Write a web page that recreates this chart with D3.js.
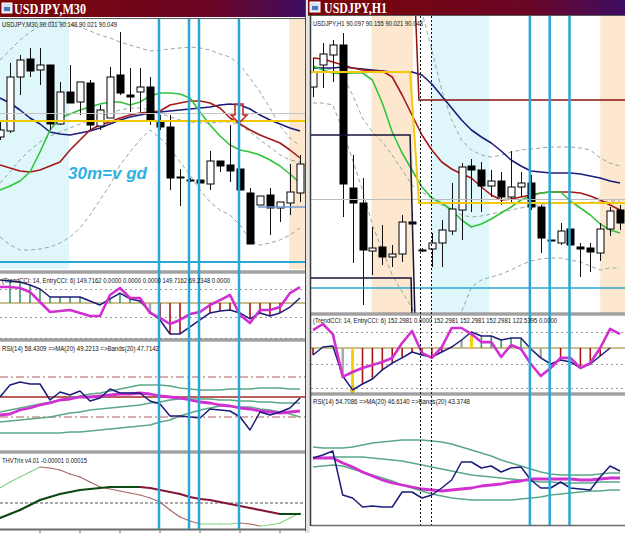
<!DOCTYPE html>
<html>
<head>
<meta charset="utf-8">
<script src="https://cdn.jsdelivr.net/npm/d3@7"></script>
<style>
body { margin: 0; background: #fff; }
svg { display: block; }
</style>
</head>
<body>
<div id="plot"></div>
<script>
// ---------- M30 window data ----------
// candles [open, high, low, close]
var m30Ohlc = [
    [89.915, 90.000, 89.900, 89.950], [89.945, 90.285, 89.935, 90.215], [90.215, 90.325, 90.125, 90.300],
    [90.305, 90.360, 90.215, 90.245], [90.250, 90.360, 90.175, 90.275], [90.275, 90.275, 89.950, 89.980],
    [89.980, 90.190, 89.975, 90.140], [90.140, 90.275, 90.085, 90.085], [90.090, 90.190, 90.025, 90.190],
    [90.185, 90.200, 89.950, 89.975], [89.970, 90.075, 89.950, 90.050], [90.010, 90.265, 90.010, 90.215],
    [90.225, 90.440, 90.125, 90.135], [90.125, 90.260, 90.040, 90.115], [90.140, 90.260, 90.040, 90.165],
    [90.165, 90.215, 89.975, 90.000], [89.990, 90.025, 89.950, 89.965], [89.965, 90.025, 89.650, 89.710],
    [89.715, 89.755, 89.570, 89.710], [89.700, 89.710, 89.690, 89.695], [89.700, 89.700, 89.685, 89.685],
    [89.680, 89.845, 89.650, 89.795], [89.795, 89.795, 89.740, 89.770], [89.775, 89.975, 89.690, 89.745],
    [89.755, 89.755, 89.650, 89.650], [89.635, 89.660, 89.380, 89.380], [89.575, 89.620, 89.575, 89.620],
    [89.625, 89.660, 89.425, 89.560], [89.560, 89.590, 89.490, 89.590], [89.585, 89.780, 89.525, 89.640],
    [89.635, 89.825, 89.590, 89.780]
];
var m30MaSlow = [90.110, 90.085, 90.050, 90.010, 89.980, 89.940, 89.930, 89.925, 89.935, 89.945, 89.960, 89.980, 90.000, 90.015, 90.025, 90.035, 90.040, 90.045, 90.050, 90.055, 90.060, 90.065, 90.075, 90.080, 90.075, 90.055, 90.025, 90.000, 89.980, 89.960, 89.945];
var m30MaMid = [89.775, 89.760, 89.745, 89.740, 89.750, 89.770, 89.790, 89.850, 89.900, 89.950, 89.975, 89.990, 90.010, 90.025, 90.035, 90.040, 90.045, 90.075, 90.085, 90.095, 90.095, 90.085, 90.060, 90.010, 89.980, 89.950, 89.925, 89.905, 89.885, 89.850, 89.810];
var m30MaFast = [89.650, 89.670, 89.695, 89.740, 89.840, 89.950, 90.010, 90.030, 90.050, 90.065, 90.080, 90.090, 90.090, 90.075, 90.090, 90.120, 90.135, 90.135, 90.130, 90.110, 90.040, 89.975, 89.920, 89.875, 89.850, 89.840, 89.825, 89.800, 89.770, 89.730, 89.685];
var m30BandUpper = [90.300, 90.350, 90.400, 90.440, 90.470, 90.490, 90.490, 90.480, 90.465, 90.445, 90.425, 90.410, 90.390, 90.375, 90.360, 90.345, 90.350, 90.355, 90.360, 90.365, 90.360, 90.350, 90.330, 90.315, 90.275, 90.210, 90.140, 90.060, 89.970, 89.910, 89.870];
var m30BandMid = [89.685, 89.740, 89.800, 89.850, 89.890, 89.920, 89.940, 89.960, 89.980, 90.000, 90.020, 90.035, 90.050, 90.060, 90.060, 90.050, 90.035, 90.015, 90.000, 89.990, 89.985, 89.985, 89.990, 89.990, 89.975, 89.940, 89.900, 89.865, 89.825, 89.800, 89.790];
var m30BandLower = [89.415, 89.375, 89.350, 89.350, 89.355, 89.365, 89.385, 89.415, 89.460, 89.525, 89.600, 89.675, 89.775, 89.840, 89.900, 89.950, 89.910, 89.860, 89.790, 89.725, 89.650, 89.590, 89.550, 89.525, 89.475, 89.400, 89.375, 89.385, 89.400, 89.425, 89.460];
var m30TrendCci = [164, 157, 150, 129, 100, 43, 43, 43, 43, 14, -14, 29, 71, 29, 14, -64, -121, -221, -221, -171, -121, -71, -57, -50, -71, -114, -71, -93, -71, -29, 36];
var m30EntryCci = [114, 114, 107, 79, 7, -64, -57, -50, -71, -93, -93, 57, 107, 36, 36, -71, -107, -150, -121, -79, -64, -14, 21, 57, -86, -143, -50, -50, -29, 71, 114];
var m30CciHist = '-gggggggg--ggggxrrr--rrr-rrrr--';   // g up, r down, x turn, - none
var m30Rsi = [50, 62, 65, 63, 63, 47, 55, 52, 56, 46, 49, 58, 54, 54, 54, 46, 43, 31, 31, 30, 29, 38, 37, 36, 30, 17, 35, 32, 35, 39, 49];
var m30RsiMa = [32, 33, 37, 39, 42, 44, 47, 48, 50, 50, 51, 52, 53, 53, 54, 53, 51, 50, 49, 47, 45, 44, 42, 41, 39, 38, 36, 35, 34, 35, 36];
var m30RsiUpper = [35, 37, 39, 41, 43, 45, 47, 49, 51, 53, 54, 56, 58, 60, 62, 62, 62, 61, 59, 58, 57, 57, 57, 58, 58, 58, 59, 59, 59, 58, 58];
var m30RsiMid = [25, 26, 27, 28, 29, 30, 32, 34, 35, 37, 38, 39, 40, 41, 42, 44, 45, 47, 48, 48, 48, 48, 47, 47, 46, 46, 45, 45, 44, 44, 44];
var m30RsiLower = [14, 14, 14, 14, 14, 14, 14, 15, 15, 16, 17, 18, 19, 20, 21, 22, 25, 27, 31, 34, 37, 39, 41, 41, 40, 40, 38, 37, 35, 33, 30];
// THVTrix in units of 0.00001
var m30TrixMain = [-15, -11, -7, -2, 3, 6, 9, 11, 13, 14, 15, 16, 16, 16, 16, 15, 13, 11, 9, 6, 4, 3, 1, -1, -3, -5, -7, -9, -11, -11, -11];
var m30TrixSignal = [15, 21, 26, 31, 36, 35, 33, 29, 26, 21, 16, 14, 12, 10, 8, 5, 1, -7, -14, -18, -21, -21, -21, -21, -20, -21, -23, -22, -20, -15, -10];
var m30Sessions = [{from: -1, to: 6.9, kind: 'asia'}, {from: 28.9, to: 31, kind: 'europe'}];
var m30TimeMarks = [15.9, 18.9, 19.9, 23.9];
var m30Levels = {grey: 90.035, yellow: 89.995, cyan: 89.29, blue: 89.565};
var m30Arrow = {bar: 23.9, price: 90.08};

// ---------- H1 window data ----------
var h1Ohlc = [
    [90.565, 90.710, 90.515, 90.640], [90.675, 90.785, 90.560, 90.730], [90.725, 90.800, 90.590, 90.775],
    [90.775, 90.835, 89.915, 90.080], [90.060, 90.225, 89.685, 89.985], [89.985, 90.110, 89.475, 89.750],
    [89.745, 89.865, 89.625, 89.760], [89.765, 89.875, 89.675, 89.715], [89.715, 89.775, 89.665, 89.730],
    [89.730, 89.925, 89.690, 89.890], [89.890, 89.935, 89.825, 89.880], [89.750, 89.760, 89.740, 89.745],
    [89.755, 89.835, 89.665, 89.785], [89.785, 89.900, 89.665, 89.850], [89.845, 90.085, 89.825, 89.955],
    [89.950, 90.185, 89.800, 90.165], [90.170, 90.205, 89.940, 90.150], [90.150, 90.190, 89.940, 90.070],
    [90.070, 90.150, 90.015, 90.095], [90.095, 90.140, 89.975, 90.015], [90.015, 90.245, 89.990, 90.065],
    [90.065, 90.140, 90.015, 90.085], [90.085, 90.125, 89.950, 89.965], [89.965, 89.975, 89.735, 89.810],
    [89.800, 89.800, 89.795, 89.795], [89.785, 89.885, 89.775, 89.845], [89.855, 89.855, 89.775, 89.775],
    [89.765, 89.785, 89.615, 89.755], [89.760, 89.785, 89.640, 89.740], [89.735, 89.885, 89.695, 89.855],
    [89.855, 89.965, 89.820, 89.945], [89.950, 89.975, 89.850, 89.885]
];
var h1MaSlow = [90.660, 90.660, 90.660, 90.665, 90.660, 90.655, 90.650, 90.645, 90.640, 90.640, 90.640, 90.625, 90.580, 90.520, 90.460, 90.400, 90.350, 90.315, 90.285, 90.245, 90.200, 90.170, 90.145, 90.140, 90.135, 90.135, 90.135, 90.130, 90.120, 90.110, 90.095, 90.085];
var h1MaMid = [90.710, 90.705, 90.690, 90.675, 90.660, 90.650, 90.645, 90.645, 90.615, 90.525, 90.425, 90.325, 90.250, 90.190, 90.155, 90.130, 90.110, 90.065, 90.025, 90.000, 90.005, 90.015, 90.025, 90.035, 90.040, 90.040, 90.040, 90.035, 90.020, 90.000, 89.975, 89.950];
var h1MaFast = [90.670, 90.650, 90.635, 90.630, 90.635, 90.635, 90.600, 90.485, 90.340, 90.235, 90.150, 90.065, 90.010, 89.985, 89.950, 89.900, 89.865, 89.880, 89.905, 89.935, 89.965, 90.000, 90.020, 90.035, 90.040, 90.040, 89.995, 89.960, 89.925, 89.880, 89.850, 89.835];
var h1BandUpper = [90.975, 90.980, 90.985, 90.990, 90.995, 91.000, 91.000, 91.000, 91.000, 91.000, 90.990, 90.940, 90.750, 90.550, 90.400, 90.300, 90.250, 90.225, 90.215, 90.225, 90.240, 90.250, 90.255, 90.260, 90.265, 90.265, 90.265, 90.260, 90.250, 90.210, 90.185, 90.170];
var h1BandMid = [90.660, 90.660, 90.650, 90.625, 90.525, 90.410, 90.340, 90.290, 90.225, 90.150, 90.075, 90.040, 90.010, 89.975, 89.950, 89.925, 89.915, 89.920, 89.930, 89.940, 89.950, 89.960, 89.970, 89.975, 89.980, 89.985, 89.985, 89.985, 89.990, 89.990, 89.995, 89.995];
var h1BandLower = [90.485, 90.485, 90.475, 90.350, 90.200, 90.050, 89.875, 89.750, 89.625, 89.540, 89.460, 89.375, 89.300, 89.300, 89.350, 89.440, 89.565, 89.600, 89.615, 89.630, 89.650, 89.675, 89.695, 89.705, 89.710, 89.710, 89.700, 89.690, 89.670, 89.650, 89.660, 89.660];
var h1TrendCci = [-44, 6, 12, -175, -262, -225, -194, -137, -94, -62, -25, -44, -56, -25, 6, 50, 100, 75, 75, 50, 62, 62, -6, -62, -100, -75, -87, -125, -100, -50, 0];
var h1EntryCci = [112, 150, 87, -181, -150, -125, -106, -87, -62, 31, 106, -31, -62, 6, 125, 125, 87, 37, 37, -56, 19, -6, -100, -175, -125, -62, -62, -125, -94, 0, 119, 87];
var h1CciHist = 'r--xyrrrrrrrrr-xyggggg-x-r-rrr--';
var h1Rsi = [67, 70, 74, 30, 27, 18, 19, 18, 18, 33, 33, 27, 30, 37, 45, 63, 63, 57, 59, 53, 57, 58, 45, 37, 37, 43, 37, 36, 35, 48, 59, 54];
var h1RsiMa = [67, 67, 67, 62, 58, 53, 49, 45, 42, 40, 38, 36, 35, 34, 35, 36, 37, 39, 40, 41, 43, 44, 46, 46, 46, 46, 46, 45, 45, 46, 47, 47];
var h1RsiUpper = [78, 77, 77, 77, 78, 80, 82, 83, 84, 85, 85, 85, 84, 83, 81, 78, 75, 72, 69, 65, 62, 59, 56, 53, 51, 50, 50, 50, 50, 51, 52, 52];
var h1RsiMid = [67, 67, 68, 68, 68, 68, 67, 66, 65, 64, 62, 60, 58, 56, 54, 52, 50, 49, 48, 47, 46, 45, 44, 43, 43, 42, 42, 42, 42, 43, 43, 43];
var h1RsiLower = [58, 59, 60, 59, 56, 53, 50, 47, 44, 40, 37, 34, 31, 29, 27, 26, 25, 25, 25, 25, 25, 26, 27, 28, 30, 31, 32, 33, 34, 34, 35, 35];
var h1Sessions = [{from: 5.9, to: 10.1, kind: 'europe'}, {from: 11.9, to: 17.8, kind: 'asia'}, {from: 29.0, to: 33, kind: 'europe'}];
var h1TimeMarks = [21.9, 23.9, 25.9];
var h1DottedMarks = [10.8, 11.9];
var h1Levels = {grey: 90.005, cyan: 89.56};
var h1YellowStep = [[-1, 90.64], [9.8, 90.64], [10.7, 89.985], [33, 89.985]];
var h1RedStep = [[10.3, 91.0], [10.7, 90.50], [33, 90.50]];
var h1BoxTop = [[-1, 90.325], [9.8, 90.325], [10.3, 89.40]];
var h1BoxBottom = [[-1, 89.61], [9.9, 89.61], [10.0, 89.40]];

var cciLevels = [100, -100, -250];
var rsiLevels = [70, 30];

// ---------- setup ----------
var width = 625;
var height = 533;
var canvas = d3.select('#plot').append('svg').attr('width', width).attr('height', height);
var defs = canvas.append('defs');

var sessionFill = {asia: '#dff7fb', europe: '#fde8cf'};
var cyanLine = '#2aa7d6';
var navy = '#1c1c7a';
var magenta = '#d22fd0';
var histColor = {g: '#3f9a68', r: '#a81414', x: '#a8a8a8', y: '#f2cf10'};

canvas.append('rect').attr('width', width).attr('height', height).attr('fill', '#fff');

var grad = defs.append('linearGradient').attr('id', 'title-grad');
grad.append('stop').attr('offset', '0%').attr('stop-color', '#7c0404');
grad.append('stop').attr('offset', '70%').attr('stop-color', '#6a0626');
grad.append('stop').attr('offset', '100%').attr('stop-color', '#3e0c62');

var clipCount = 0;
function panel(x0, y0, w, h) {
    var id = 'clip' + (clipCount++);
    defs.append('clipPath').attr('id', id).append('rect')
        .attr('x', x0).attr('y', y0).attr('width', w).attr('height', h);
    return canvas.append('g').attr('clip-path', 'url(#' + id + ')');
}

function drawLine(g, values, x, y, color, w, dash) {
    var gen = d3.line()
        .defined(function(d) { return d != null; })
        .x(function(d, i) { return x(i); })
        .y(function(d) { return y(d); });
    g.append('path')
        .attr('d', gen(values))
        .attr('fill', 'none')
        .attr('stroke', color)
        .attr('stroke-width', w)
        .attr('stroke-dasharray', dash || null)
        .attr('stroke-linejoin', 'round');
}

function drawSegLine(g, values, x, y, upColor, downColor, w) {
    for (var i = 0; i < values.length - 1; i++) {
        g.append('line')
            .attr('x1', x(i)).attr('y1', y(values[i]))
            .attr('x2', x(i + 1)).attr('y2', y(values[i + 1]))
            .attr('stroke', values[i + 1] >= values[i] ? upColor : downColor)
            .attr('stroke-width', w)
            .attr('stroke-linecap', 'round');
    }
}

function drawPoly(g, pts, x, y, color, w) {
    var gen = d3.line().x(function(d) { return x(d[0]); }).y(function(d) { return y(d[1]); });
    g.append('path').attr('d', gen(pts)).attr('fill', 'none').attr('stroke', color).attr('stroke-width', w);
}

function drawCandles(g, bars, x, y, bw) {
    var c = g.selectAll(null).data(bars).enter().append('g');
    c.append('line')
        .attr('x1', function(d, i) { return Math.round(x(i)) + 0.5; })
        .attr('x2', function(d, i) { return Math.round(x(i)) + 0.5; })
        .attr('y1', function(d) { return y(d[1]); })
        .attr('y2', function(d) { return y(d[2]); })
        .attr('stroke', '#111').attr('stroke-width', 1);
    c.append('rect')
        .attr('x', function(d, i) { return Math.round(x(i)) + 0.5 - bw / 2; })
        .attr('y', function(d) { return y(Math.max(d[0], d[3])); })
        .attr('width', bw)
        .attr('height', function(d) { return Math.max(1, Math.abs(y(d[0]) - y(d[3]))); })
        .attr('fill', function(d) { return d[3] > d[0] ? '#fff' : '#000'; })
        .attr('stroke', '#000').attr('stroke-width', 1);
}

function hline(g, x0, x1, yv, color, w, dash) {
    g.append('line').attr('x1', x0).attr('x2', x1).attr('y1', yv).attr('y2', yv)
        .attr('stroke', color).attr('stroke-width', w).attr('stroke-dasharray', dash || null);
}

function label(x0, yb, txt, len) {
    canvas.append('text').attr('x', x0).attr('y', yb)
        .attr('font-family', 'Liberation Sans, Arial, sans-serif')
        .attr('font-size', 6.6).attr('fill', '#111')
        .attr('textLength', len).attr('lengthAdjust', 'spacingAndGlyphs')
        .text(txt);
}

function sessions(g, list, x, y0, y1) {
    g.selectAll(null).data(list).enter().append('rect')
        .attr('x', function(d) { return x(d.from); })
        .attr('width', function(d) { return x(d.to) - x(d.from); })
        .attr('y', y0).attr('height', y1 - y0)
        .attr('fill', function(d) { return sessionFill[d.kind]; });
}

function cciPanel(g, trend, entry, hist, x, y, x0, x1) {
    cciLevels.forEach(function(l) { hline(g, x0, x1, Math.round(y(l)) + 0.5, '#9a9a9a', 1, '2,3'); });
    hline(g, x0, x1, y(0), '#c9bf8c', 2);
    trend.forEach(function(v, i) {
        var k = hist[i];
        if (!k || k === '-') return;
        g.append('line').attr('x1', x(i)).attr('x2', x(i)).attr('y1', y(0)).attr('y2', y(v))
            .attr('stroke', histColor[k]).attr('stroke-width', k === 'y' ? 3 : (k === 'x' ? 2.5 : 1.6));
        if (k === 'y' && v < 0) {
            g.append('path').attr('d', d3.symbol(d3.symbolDiamond, 22)())
                .attr('transform', 'translate(' + x(i) + ',' + y(v) + ')')
                .attr('fill', histColor.y).attr('stroke', '#b09000').attr('stroke-width', 0.5);
        }
    });
    drawLine(g, trend, x, y, navy, 1.5);
    drawLine(g, entry, x, y, magenta, 2.6);
}

function rsiPanel(g, rsi, ma, up, mid, lo, x, y) {
    drawLine(g, up, x, y, '#5aa888', 1.5);
    drawLine(g, mid, x, y, '#5aa888', 1.5);
    drawLine(g, lo, x, y, '#5aa888', 1.5);
    drawLine(g, ma, x, y, magenta, 2.8);
    drawLine(g, rsi, x, y, navy, 1.5);
}

// ================= M30 window (left) =================
var xL = d3.scaleLinear().domain([0, 30]).range([0, 300]);
var yL = d3.scaleLinear().domain([90.50, 89.26]).range([20, 268]);
var cciL = d3.scaleLinear().domain([-250, 100]).range([338, 289]);
var rsiL = d3.scaleLinear().domain([0, 100]).range([447, 347]);
var trixL = d3.scaleLinear().domain([-25, 48]).range([528, 455]);

// main
var gm = panel(0, 19, 305, 252);
sessions(gm, m30Sessions, xL, 19, 269);
drawLine(gm, m30BandUpper, xL, yL, '#8fa9a2', 1, '4,3');
drawLine(gm, m30BandMid, xL, yL, '#8fa9a2', 1, '4,3');
drawLine(gm, m30BandLower, xL, yL, '#8fa9a2', 1, '4,3');
drawLine(gm, m30MaSlow, xL, yL, navy, 1.6);
drawLine(gm, m30MaMid, xL, yL, '#a41818', 1.6);
drawLine(gm, m30MaFast, xL, yL, '#30c43a', 1.6);
drawCandles(gm, m30Ohlc, xL, yL, 7);
hline(gm, 0, 305, Math.round(yL(m30Levels.grey)) + 0.5, '#c4c4c4', 1);
hline(gm, 0, 305, yL(m30Levels.yellow), '#f0c800', 2);
hline(gm, 0, 305, yL(m30Levels.cyan), cyanLine, 2);
hline(gm, xL(25.8), 305, yL(m30Levels.blue), '#6f9ad0', 1.5);
// sell arrow
(function() {
    var ax = xL(m30Arrow.bar), ay = yL(m30Arrow.price);
    var pts = [[ax - 4, ay], [ax + 4, ay], [ax + 4, ay + 11], [ax + 8, ay + 11], [ax, ay + 19], [ax - 8, ay + 11], [ax - 4, ay + 11]];
    gm.append('polygon').attr('points', pts.map(function(p) { return p.join(','); }).join(' '))
        .attr('fill', '#fff').attr('fill-opacity', 0.3).attr('stroke', '#c42020').attr('stroke-width', 1.5);
})();
gm.append('text').attr('x', 68).attr('y', 179)
    .attr('font-family', 'Liberation Sans, Arial, sans-serif')
    .attr('font-size', 17).attr('font-weight', 'bold').attr('font-style', 'italic')
    .attr('fill', '#2bb0e2').text('30m=v gd');

// cci
var gc = panel(0, 274, 305, 65);
cciPanel(gc, m30TrendCci, m30EntryCci, m30CciHist, xL, cciL, 0, 305);

// rsi
var gr = panel(0, 342, 305, 109);
hline(gr, 0, 305, rsiL(rsiLevels[0]), '#c89494', 1.5, '8,3,2,3');
hline(gr, 0, 305, rsiL(rsiLevels[1]), '#c89494', 1.5, '8,3,2,3');
hline(gr, 0, 305, rsiL(50), '#a42a2a', 1.5);
rsiPanel(gr, m30Rsi, m30RsiMa, m30RsiUpper, m30RsiMid, m30RsiLower, xL, rsiL);

// trix
var gt = panel(0, 454, 305, 75);
hline(gt, 0, 305, trixL(0), '#555', 1, '3,2');
drawSegLine(gt, m30TrixSignal, xL, trixL, '#86d486', '#a86a6a', 1.2);
drawSegLine(gt, m30TrixMain, xL, trixL, '#0c4a12', '#861636', 2.2);

// separators and frame
[[271.5, 273], [339.5, 341], [451.5, 453]].forEach(function(s) {
    canvas.append('rect').attr('x', 0).attr('y', s[0] - 1).attr('width', 305).attr('height', 3).attr('fill', '#7a7a7a');
    hline(canvas, 0, 305, s[0] + 0.5, '#c8c8c8', 1);
});
hline(canvas, 0, 305, 529.5, '#6a6a6a', 2);
d3.range(40, 300, 40).forEach(function(t) {
    canvas.append('line').attr('x1', t).attr('x2', t).attr('y1', 530).attr('y2', 533).attr('stroke', '#6a6a6a');
});

// time markers
canvas.selectAll(null).data(m30TimeMarks).enter().append('line')
    .attr('x1', function(d) { return xL(d); }).attr('x2', function(d) { return xL(d); })
    .attr('y1', 19).attr('y2', 529)
    .attr('stroke', cyanLine).attr('stroke-width', 2.5);

// title bar
canvas.append('rect').attr('x', 0).attr('y', 0).attr('width', 305).attr('height', 17).attr('fill', 'url(#title-grad)');
canvas.append('rect').attr('x', 2).attr('y', 3).attr('width', 10).attr('height', 10).attr('fill', '#d6e2f4').attr('stroke', '#fff');
canvas.append('rect').attr('x', 4).attr('y', 7).attr('width', 6).attr('height', 4).attr('fill', '#4a78b8');
canvas.append('text').attr('x', 14).attr('y', 14)
    .attr('font-family', 'Liberation Serif, Times New Roman, serif').attr('font-weight', 'bold')
    .attr('font-size', 14).attr('fill', '#fff')
    .attr('textLength', 72).attr('lengthAdjust', 'spacingAndGlyphs').text('USDJPY,M30');
hline(canvas, 0, 305, 18.5, '#5a5a5a', 1);
canvas.append('rect').attr('x', 305).attr('y', 0).attr('width', 5).attr('height', 533).attr('fill', '#e4e4e4');
canvas.append('line').attr('x1', 305.5).attr('x2', 305.5).attr('y1', 0).attr('y2', 531).attr('stroke', '#4a4a4a');

label(2, 27, 'USDJPY,M30  90.031  90.148  90.021  90.049', 115);
label(2, 283, '(TrendCCI: 14, EntryCCI: 6)  149.7162  0.0000  0.0000  0.0000  149.7162  69.2348  0.0000', 228);
label(2, 351, 'RSI(14) 58.4309   =>MA(20) 49.2213   =>Bands(20) 47.7142', 157);
label(2, 463, 'THVTrix v4.01  -0.00001  0.00015', 85);

// ================= H1 window (right) =================
var xR = d3.scaleLinear().domain([0, 31]).range([313, 620]);
var yR = d3.scaleLinear().domain([90.915, 89.435]).range([17, 313]);
var cciR = d3.scaleLinear().domain([-250, 100]).range([388, 332]);
var rsiR = d3.scaleLinear().domain([0, 100]).range([525, 425]);

var hm = panel(311, 16, 314, 297);
sessions(hm, h1Sessions, xR, 16, 313);
drawLine(hm, h1BandUpper, xR, yR, '#8fa9a2', 1, '4,3');
drawLine(hm, h1BandMid, xR, yR, '#8fa9a2', 1, '4,3');
drawLine(hm, h1BandLower, xR, yR, '#8fa9a2', 1, '4,3');
drawLine(hm, h1MaSlow, xR, yR, navy, 1.6);
drawLine(hm, h1MaMid, xR, yR, '#a41818', 1.6);
drawLine(hm, h1MaFast, xR, yR, '#30c43a', 1.6);
drawCandles(hm, h1Ohlc, xR, yR, 7);
hline(hm, 311, 625, Math.round(yR(h1Levels.grey)) + 0.5, '#bcbcbc', 1);
hline(hm, 311, 625, yR(h1Levels.cyan), cyanLine, 1.5);
drawPoly(hm, h1BoxTop, xR, yR, '#14143a', 1.5);
drawPoly(hm, h1BoxBottom, xR, yR, '#14143a', 1.5);
drawPoly(hm, h1RedStep, xR, yR, '#8a1010', 1.5);
drawPoly(hm, h1YellowStep, xR, yR, '#f2c810', 2);

var hc = panel(311, 315, 314, 78);
cciPanel(hc, h1TrendCci, h1EntryCci, h1CciHist, xR, cciR, 311, 625);

var hr = panel(311, 396, 314, 129);
rsiPanel(hr, h1Rsi, h1RsiMa, h1RsiUpper, h1RsiMid, h1RsiLower, xR, rsiR);

[[313.5], [393.5]].forEach(function(s) {
    canvas.append('rect').attr('x', 311).attr('y', s[0] - 1).attr('width', 314).attr('height', 3).attr('fill', '#7a7a7a');
    hline(canvas, 311, 625, s[0] + 0.5, '#c8c8c8', 1);
});
hline(canvas, 311, 625, 525.5, '#6a6a6a', 1.5);

canvas.selectAll(null).data(h1DottedMarks).enter().append('line')
    .attr('x1', function(d) { return Math.round(xR(d)) + 0.5; }).attr('x2', function(d) { return Math.round(xR(d)) + 0.5; })
    .attr('y1', 16).attr('y2', 525)
    .attr('stroke', '#111').attr('stroke-width', 1).attr('stroke-dasharray', '2,2');
canvas.selectAll(null).data(h1TimeMarks).enter().append('line')
    .attr('x1', function(d) { return xR(d); }).attr('x2', function(d) { return xR(d); })
    .attr('y1', 16).attr('y2', 525)
    .attr('stroke', cyanLine).attr('stroke-width', 2.5);

canvas.append('rect').attr('x', 308).attr('y', 0).attr('width', 317).attr('height', 15).attr('fill', 'url(#title-grad)');
canvas.append('rect').attr('x', 310).attr('y', 2).attr('width', 10).attr('height', 10).attr('fill', '#d6e2f4').attr('stroke', '#fff');
canvas.append('rect').attr('x', 312).attr('y', 6).attr('width', 6).attr('height', 4).attr('fill', '#4a78b8');
canvas.append('text').attr('x', 324).attr('y', 13)
    .attr('font-family', 'Liberation Serif, Times New Roman, serif').attr('font-weight', 'bold')
    .attr('font-size', 14).attr('fill', '#fff')
    .attr('textLength', 63).attr('lengthAdjust', 'spacingAndGlyphs').text('USDJPY,H1');
hline(canvas, 308, 625, 15.5, '#5a5a5a', 1);
canvas.append('line').attr('x1', 310.5).attr('x2', 310.5).attr('y1', 15).attr('y2', 526).attr('stroke', '#3a3a3a').attr('stroke-width', 1.5);

label(313, 26, 'USDJPY,H1  90.097  90.155  90.021  90.048', 110);
label(313, 323, '(TrendCCI: 14, EntryCCI: 6)  152.2981  0.0000  152.2981  152.2981  152.2981  122.5395  0.0000', 244);
label(313, 404, 'RSI(14) 54.7086   =>MA(20) 46.6140   =>Bands(20) 43.3748', 157);
</script>
</body>
</html>
